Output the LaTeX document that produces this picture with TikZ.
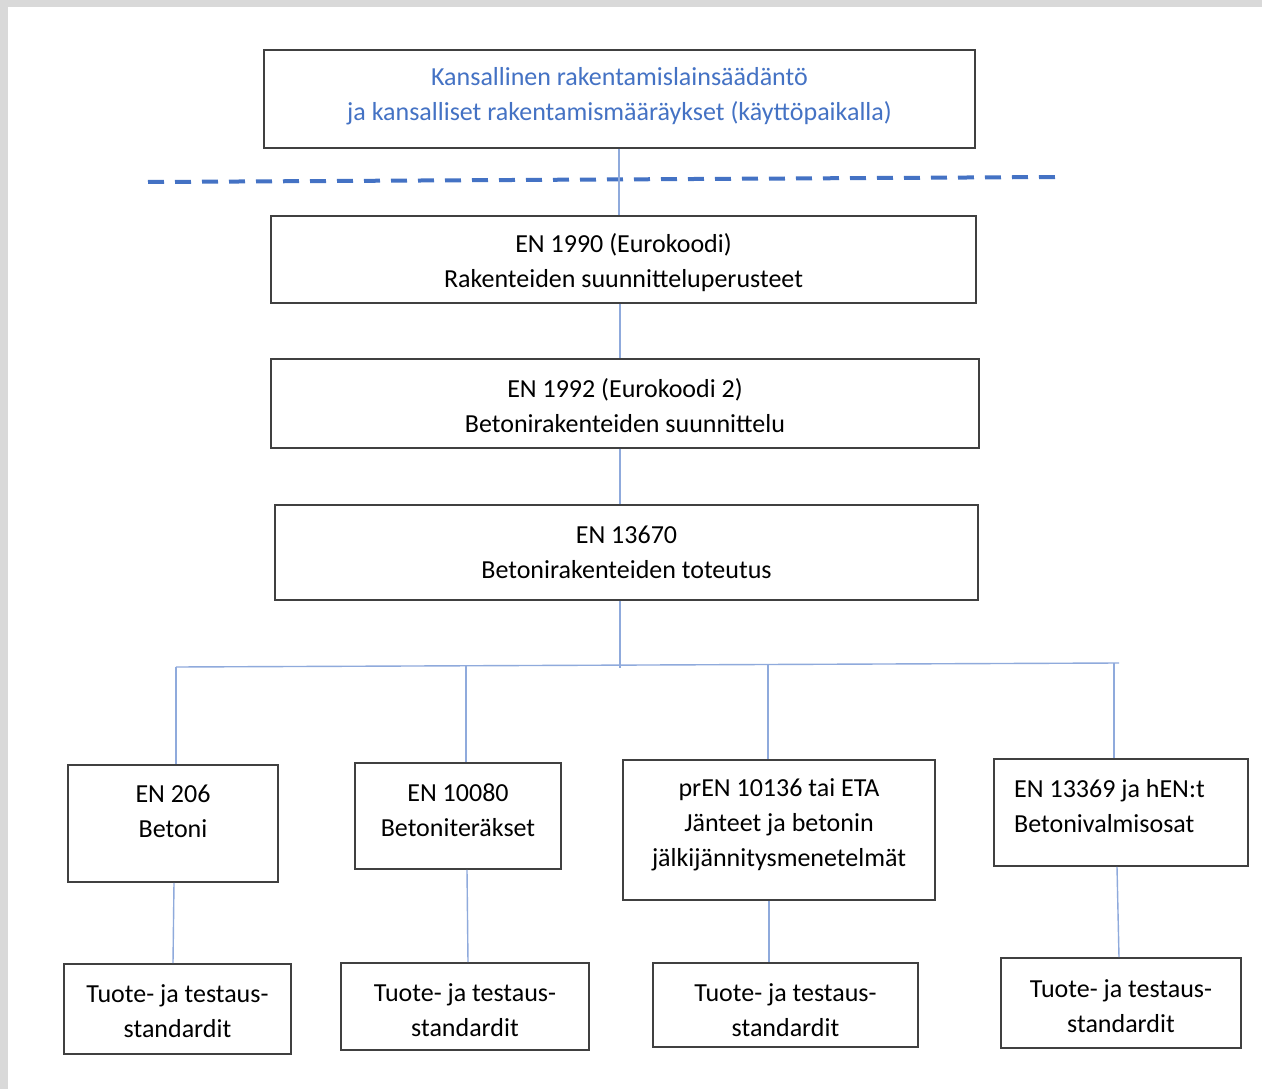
\documentclass[tikz,border=0pt]{standalone}
\usepackage{fontspec}
\setmainfont{Carlito}
\usepackage{tikz}
\usetikzlibrary{positioning}

\definecolor{kblue}{HTML}{4472C4}
\definecolor{linkblue}{HTML}{8FAADC}
\definecolor{framegray}{HTML}{D9D9D9}
\definecolor{edgegray}{HTML}{404040}

\begin{document}
\begin{tikzpicture}[x=1pt, y=-1pt,
        box/.style={draw=edgegray, line width=1.8pt, rectangle, inner sep=0pt},
        txt/.style={align=center, inner sep=0pt, font=\fontsize{26}{35}\selectfont},
        conn/.style={draw=linkblue, line width=1.4pt}]
        % frame
        \fill[framegray] (0,0) rectangle (1262,1089);
        \fill[white] (8,7) rectangle (1262,1089);
        \useasboundingbox (0,0) rectangle (1262,1089);

        % top chain
        \node[box, minimum width=711pt, minimum height=98pt] (nat) at (619.5,99) {};
        \node[txt, text=kblue] (natT) at (619.5,96) {Kansallinen rakentamislainsäädäntö\\ja kansalliset rakentamismääräykset (käyttöpaikalla)};
        \node[box, minimum width=705pt, minimum height=87pt] (ec0) at (623.5,259.5) {};
        \node[txt] (ec0T) at (623.5,262.5) {EN 1990 (Eurokoodi)\\Rakenteiden suunnitteluperusteet};
        \node[box, minimum width=708pt, minimum height=89pt] (ec2) at (625,403.5) {};
        \node[txt] (ec2T) at (625,405.5) {EN 1992 (Eurokoodi 2)\\Betonirakenteiden suunnittelu};
        \node[box, minimum width=703pt, minimum height=95pt] (exe) at (626.5,552.5) {};
        \node[txt] (exeT) at (626.5,552.5) {EN 13670\\Betonirakenteiden toteutus};

        % separator
        \coordinate (sepL) at (148,182);
        \coordinate (sepR) at (1058,177);
        \draw[kblue, line width=4pt, dash pattern=on 16pt off 11pt] (sepL) -- (sepR);

        % product standards
        \node[box, minimum width=210pt, minimum height=117pt] (betoni) at (173,823.5) {};
        \node[txt] (betoniT) at (173,811.5) {EN 206\\Betoni};
        \node[box, minimum width=206pt, minimum height=106pt] (teras) at (458,816) {};
        \node[txt] (terasT) at (458,810) {EN 10080\\Betoniteräkset};
        \node[box, minimum width=312pt, minimum height=140pt] (jannte) at (779,830) {};
        \node[txt] (jannteT) at (779,825) {prEN 10136 tai ETA\\Jänteet ja betonin\\jälkijännitysmenetelmät};
        \node[box, minimum width=254pt, minimum height=107pt] (valmis) at (1121,812.5) {};
        \node[txt, align=left, anchor=west] (valmisT) at (1014,806.5) {EN 13369 ja hEN:t\\Betonivalmisosat};

        % test standards
        \node[box, minimum width=227pt, minimum height=90pt] (testA) at (177.5,1009) {};
        \node[txt] (testAT) at (177.5,1011.5) {Tuote- ja testaus-\\standardit};
        \node[box, minimum width=248pt, minimum height=87pt] (testB) at (465,1006.5) {};
        \node[txt] (testBT) at (465,1010) {Tuote- ja testaus-\\standardit};
        \node[box, minimum width=265pt, minimum height=84pt] (testC) at (785.5,1005) {};
        \node[txt] (testCT) at (785.5,1010) {Tuote- ja testaus-\\standardit};
        \node[box, minimum width=240pt, minimum height=90pt] (testD) at (1121,1003) {};
        \node[txt] (testDT) at (1121,1006) {Tuote- ja testaus-\\standardit};

        % connectors
        \draw[conn] (nat.south -| 619,0) -- (ec0.north -| 619,0);
        \draw[conn] (ec0.south -| 620,0) -- (ec2.north -| 620,0);
        \draw[conn] (ec2.south -| 620,0) -- (exe.north -| 620,0);

        \coordinate (busL) at (176,667);
        \coordinate (busR) at (1119,663);
        \coordinate (busM) at (620,668);
        \draw[conn] (busL) -- (busR);
        \draw[conn] (exe.south -| busM) -- (busM);

        \coordinate (dA) at (176,667);
        \coordinate (dB) at (466,666);
        \coordinate (dC) at (768,665);
        \coordinate (dD) at (1114,663);
        \draw[conn] (dA) -- (betoni.north -| dA);
        \draw[conn] (dB) -- (teras.north -| dB);
        \draw[conn] (dC) -- (jannte.north -| dC);
        \draw[conn] (dD) -- (valmis.north -| dD);

        \draw[conn] (betoni.south -| 174,0) -- (testA.north -| 173,0);
        \draw[conn] (teras.south -| 467,0) -- (testB.north -| 468,0);
        \draw[conn] (jannte.south -| 769,0) -- (testC.north -| 769,0);
        \draw[conn] (valmis.south -| 1117,0) -- (testD.north -| 1119,0);
\end{tikzpicture}
\end{document}
